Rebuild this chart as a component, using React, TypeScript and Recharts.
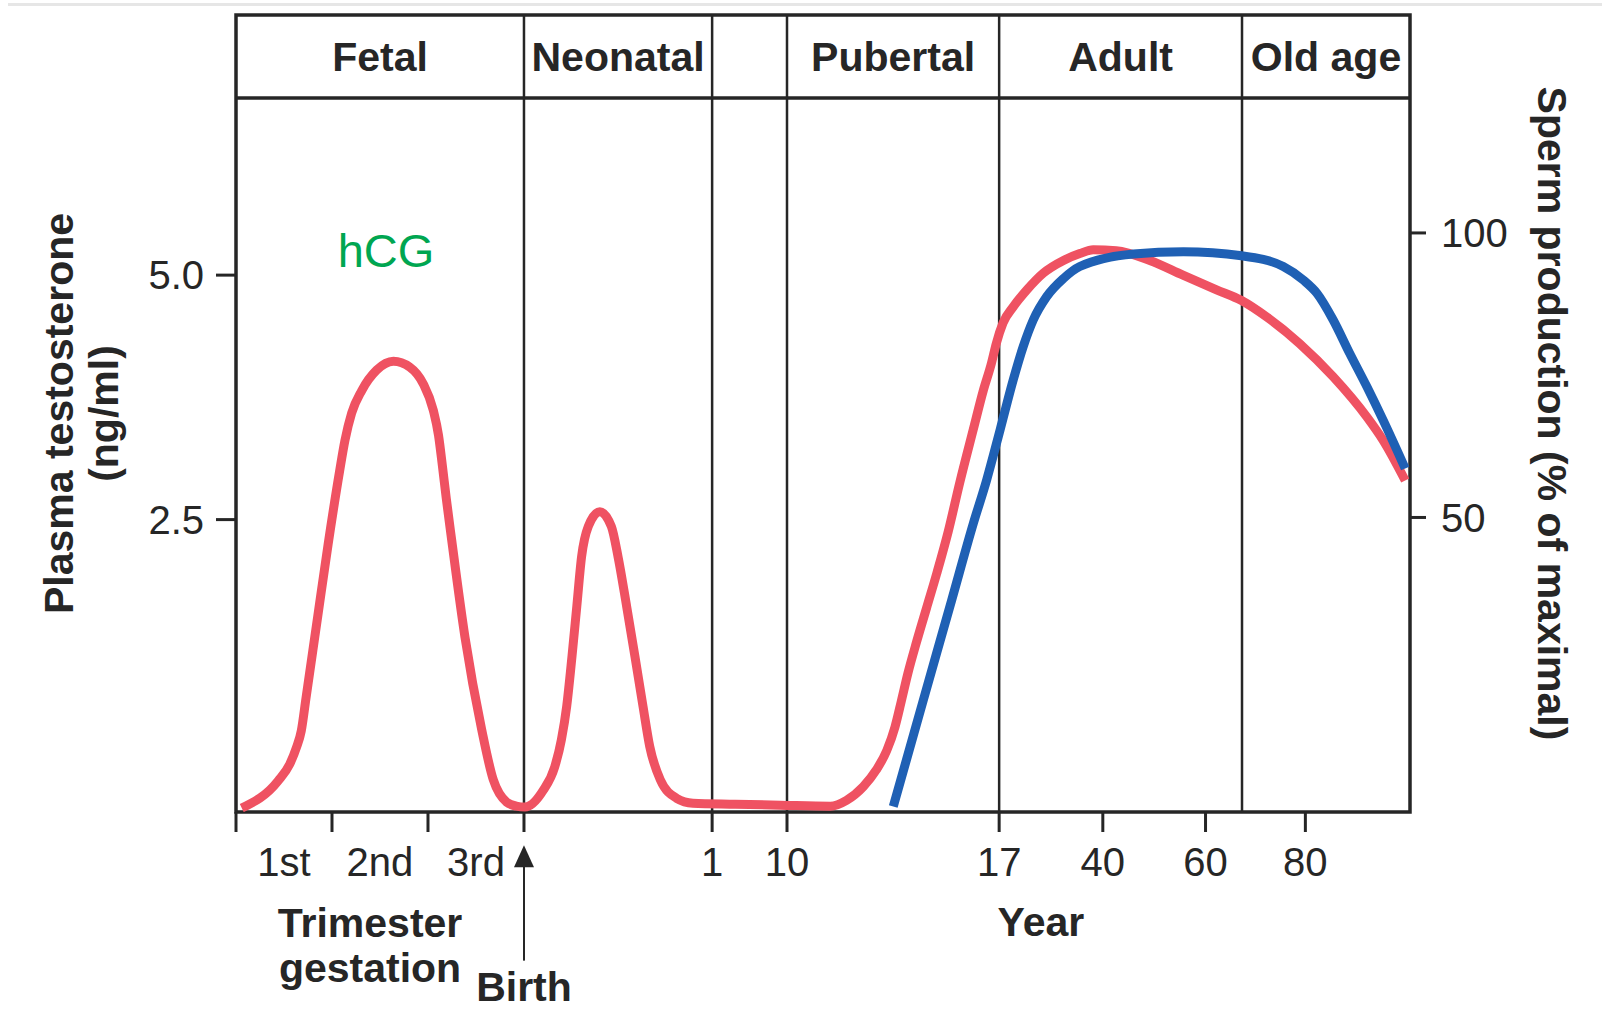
import {
  LineChart,
  Line,
  XAxis,
  YAxis,
  ReferenceArea,
  ReferenceDot,
  ReferenceLine,
} from "recharts";

const FONT = '"Liberation Sans", Arial, Helvetica, sans-serif';
const INK = "#262626";
const RED = "#ef5262";
const BLUE = "#1f60b4";
const GREEN = "#00a651";

// x is a schematic position along the life span: 1 unit = one trimester width
const X_DOMAIN: [number, number] = [0, 12.23];
const NG_DOMAIN: [number, number] = [-0.49, 7.66];
const PCT_DOMAIN: [number, number] = [-1.76, 138.3];

const xTicks = [0, 0.5, 1, 1.5, 2, 2.5, 3, 4.96, 5.74, 7.95, 9.03, 10.1, 11.14];
const xTickLabels = ["", "1st", "", "2nd", "", "3rd", "", "1", "10", "17", "40", "60", "80"];
const xTickMarks = [true, false, true, false, true, false, true, true, true, true, true, true, true];

const ngTicks = [2.5, 5.0];
const pctTicks = [50, 100];

const periodNames = ["Fetal", "Neonatal", "Pubertal", "Adult", "Old age"];
const periodStart = [0, 3, 5.74, 7.95, 10.48];
const periodEnd = [3, 4.96, 7.95, 10.48, 12.23];
const dividers = [3, 4.96, 5.74, 7.95, 10.48];
const headerBottom = 6.81;

// plasma testosterone (ng/ml)
const testosteroneX = [
  0.06, 0.44, 0.56, 0.63, 0.68, 0.73, 0.85, 0.96, 1.08, 1.135, 1.205, 1.31, 1.466, 1.64, 1.81,
  1.95, 2.055, 2.11, 2.15, 2.19, 2.247, 2.385, 2.56, 2.68, 2.82, 2.92, 3.01, 3.2, 3.32, 3.39,
  3.445, 3.5, 3.55, 3.6, 3.67, 3.79, 3.91, 3.98, 4.07, 4.156, 4.24, 4.31, 4.42, 4.59, 4.76,
  5.2, 5.67, 6.19, 6.36, 6.535, 6.67, 6.78, 6.865, 6.93, 7.0, 7.09, 7.195, 7.3, 7.42, 7.54,
  7.68, 7.785, 7.87, 7.92, 7.99, 8.1, 8.24, 8.41, 8.62, 8.79, 8.93, 9.17, 9.52, 9.865, 10.215,
  10.475, 10.74, 11.08, 11.43, 11.78, 11.95, 12.18,
];
const testosteroneNg = [
  -0.45, -0.17, 0.0, 0.17, 0.34, 0.68, 1.5, 2.25, 3.0, 3.31, 3.59, 3.82, 4.03, 4.12, 4.06,
  3.89, 3.62, 3.36, 3.05, 2.72, 2.29, 1.3, 0.35, -0.16, -0.39, -0.43, -0.44, -0.27, -0.03, 0.25,
  0.59, 1.1, 1.61, 2.12, 2.43, 2.58, 2.43, 2.12, 1.61, 1.1, 0.59, 0.18, -0.16, -0.35, -0.4,
  -0.41, -0.42, -0.43, -0.37, -0.23, -0.06, 0.14, 0.38, 0.64, 0.93, 1.25, 1.6, 1.95, 2.38, 2.88,
  3.42, 3.82, 4.1, 4.3, 4.51, 4.68, 4.85, 5.02, 5.15, 5.22, 5.26, 5.25, 5.15, 5.0, 4.85,
  4.74, 4.57, 4.3, 3.96, 3.55, 3.31, 2.9,
];

// sperm production (% of maximal)
const spermX = [
  6.847, 7.16, 7.456, 7.68, 7.82, 7.96, 8.097, 8.2, 8.305, 8.445, 8.62, 8.79, 9.35, 9.87,
  10.475, 10.91, 11.12, 11.26, 11.43, 11.6, 11.78, 11.95, 12.18,
];
const spermPct = [
  -0.8, 17.9, 35.5, 48.9, 56.6, 65.4, 74.2, 80.0, 84.7, 88.8, 92.0, 94.1, 96.3, 96.7,
  96.0, 94.1, 91.7, 89.4, 84.7, 78.9, 73.0, 67.1, 58.6,
];

const testosteroneData = testosteroneX.map((u, i) => ({ u, ng: testosteroneNg[i] }));
const spermData = spermX.map((u, i) => ({ u, pct: spermPct[i] }));

// annotation anchors (x position, baseline in ng/ml units)
const hcgAt = { u: 1.5625, v: 5.08 };
const trimesterAt = { u: 1.396, v: -1.77 };
const gestationAt = { u: 1.396, v: -2.23 };
const yearAt = { u: 8.385, v: -1.76 };
const birthAt = { u: 3, v: -2.42 };
const arrowTip = -0.83;
const arrowTail = -2.01;

const TICK_SIZE = 20;

function XTick(props: any) {
  const { x, y, payload } = props;
  const i = xTicks.indexOf(payload.value);
  return (
    <g>
      {xTickMarks[i] && (
        <line x1={x} x2={x} y1={y - TICK_SIZE} y2={y} stroke={INK} strokeWidth={3} />
      )}
      {xTickLabels[i] && (
        <text x={x} y={y + 44} textAnchor="middle" fontSize={40} fill={INK}>
          {xTickLabels[i]}
        </text>
      )}
    </g>
  );
}

function textShape(label: string, opts: { size?: number; weight?: number; color?: string } = {}) {
  return (p: any) => (
    <text
      x={p.cx}
      y={p.cy}
      textAnchor="middle"
      fontSize={opts.size ?? 41}
      fontWeight={opts.weight ?? 700}
      fill={opts.color ?? INK}
    >
      {label}
    </text>
  );
}

const arrowHead = (p: any) => (
  <path
    d={`M${p.cx},${p.cy} L${p.cx - 10},${p.cy + 22} L${p.cx + 10},${p.cy + 22} Z`}
    fill={INK}
  />
);

const leftTitle = (props: any) => {
  const vb = props.viewBox ?? { x: 0, y: 15, width: 236, height: 797 };
  const cy = vb.y + vb.height / 2;
  const x1 = vb.x + 73;
  const x2 = vb.x + 118;
  return (
    <g fontSize={41} fontWeight={700} fill={INK}>
      <text x={x1} y={cy} transform={`rotate(-90 ${x1} ${cy})`} textAnchor="middle">
        Plasma testosterone
      </text>
      <text x={x2} y={cy} transform={`rotate(-90 ${x2} ${cy})`} textAnchor="middle">
        (ng/ml)
      </text>
    </g>
  );
};

const rightTitle = (props: any) => {
  const vb = props.viewBox ?? { x: 1410, y: 15, width: 192, height: 797 };
  const cy = vb.y + vb.height / 2;
  const x = vb.x + 128;
  return (
    <text
      x={x}
      y={cy}
      transform={`rotate(90 ${x} ${cy})`}
      textAnchor="middle"
      fontSize={41}
      fontWeight={700}
      fill={INK}
    >
      Sperm production (% of maximal)
    </text>
  );
};

export default function App() {
  return (
    <div style={{ position: "absolute", left: 0, top: 0, width: 1602, height: 1009, background: "#fff", fontFamily: FONT }}>
      <div style={{ position: "absolute", left: 8, top: 3, width: 1594, height: 3, background: "#e6e6e6" }} />
      <LineChart width={1602} height={1009} margin={{ top: 15, right: 0, bottom: 0, left: 0 }}>
        <XAxis
          dataKey="u"
          type="number"
          domain={X_DOMAIN}
          allowDataOverflow
          ticks={xTicks}
          interval={0}
          tick={XTick}
          tickSize={TICK_SIZE}
          tickMargin={0}
          tickLine={false}
          axisLine={false}
          height={197}
        />
        <YAxis
          yAxisId="left"
          type="number"
          domain={NG_DOMAIN}
          allowDataOverflow
          ticks={ngTicks}
          tickFormatter={(v: number) => v.toFixed(1)}
          tick={{ fill: INK, fontSize: 40 }}
          tickSize={20}
          tickMargin={12}
          tickLine={{ stroke: INK, strokeWidth: 3 }}
          axisLine={false}
          width={236}
          label={leftTitle}
        />
        <YAxis
          yAxisId="right"
          orientation="right"
          type="number"
          domain={PCT_DOMAIN}
          allowDataOverflow
          ticks={pctTicks}
          tick={{ fill: INK, fontSize: 40 }}
          tickSize={16}
          tickMargin={15}
          tickLine={{ stroke: INK, strokeWidth: 3 }}
          axisLine={false}
          width={192}
          label={rightTitle}
        />

        {periodNames.map((name, i) => (
          <ReferenceArea
            key={name}
            yAxisId="left"
            x1={periodStart[i]}
            x2={periodEnd[i]}
            y1={headerBottom}
            y2={NG_DOMAIN[1]}
            fill="none"
            stroke="none"
            label={{ value: name, position: "center", fill: INK, fontSize: 41, fontWeight: 700 }}
          />
        ))}
        {dividers.map((d) => (
          <ReferenceLine key={d} yAxisId="left" x={d} stroke={INK} strokeWidth={2.5} />
        ))}
        <ReferenceLine yAxisId="left" y={headerBottom} stroke={INK} strokeWidth={3.5} />
        <ReferenceArea
          yAxisId="left"
          x1={X_DOMAIN[0]}
          x2={X_DOMAIN[1]}
          y1={NG_DOMAIN[0]}
          y2={NG_DOMAIN[1]}
          fill="none"
          stroke={INK}
          strokeWidth={3.5}
        />

        <Line
          yAxisId="left"
          data={testosteroneData}
          dataKey="ng"
          type="monotone"
          stroke={RED}
          strokeWidth={9}
          dot={false}
          activeDot={false}
          isAnimationActive={false}
        />
        <Line
          yAxisId="right"
          data={spermData}
          dataKey="pct"
          type="monotone"
          stroke={BLUE}
          strokeWidth={9}
          dot={false}
          activeDot={false}
          isAnimationActive={false}
        />

        <ReferenceDot yAxisId="left" x={hcgAt.u} y={hcgAt.v} r={1} ifOverflow="visible"
          shape={textShape("hCG", { size: 47, weight: 400, color: GREEN })} />
        <ReferenceDot yAxisId="left" x={trimesterAt.u} y={trimesterAt.v} r={1} ifOverflow="visible"
          shape={textShape("Trimester")} />
        <ReferenceDot yAxisId="left" x={gestationAt.u} y={gestationAt.v} r={1} ifOverflow="visible"
          shape={textShape("gestation")} />
        <ReferenceDot yAxisId="left" x={yearAt.u} y={yearAt.v} r={1} ifOverflow="visible"
          shape={textShape("Year")} />
        <ReferenceDot yAxisId="left" x={birthAt.u} y={birthAt.v} r={1} ifOverflow="visible"
          shape={textShape("Birth")} />
        <ReferenceLine
          yAxisId="left"
          segment={[{ x: birthAt.u, y: arrowTip - 0.1 }, { x: birthAt.u, y: arrowTail }]}
          stroke={INK}
          strokeWidth={2}
          ifOverflow="visible"
        />
        <ReferenceDot yAxisId="left" x={birthAt.u} y={arrowTip} r={1} ifOverflow="visible" shape={arrowHead} />
      </LineChart>
    </div>
  );
}
